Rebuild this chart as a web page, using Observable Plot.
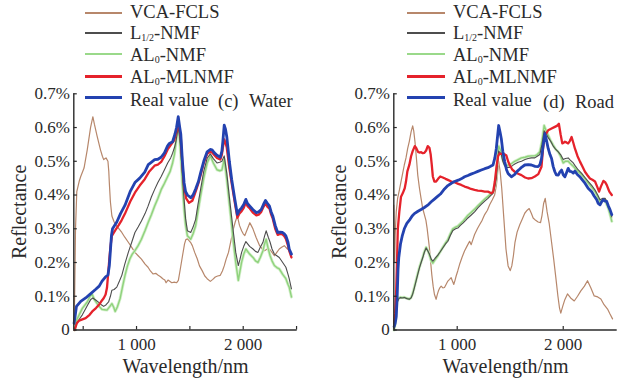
<!DOCTYPE html>
<html><head><meta charset="utf-8">
<script src="https://cdn.jsdelivr.net/npm/d3@7"></script>
<script src="https://cdn.jsdelivr.net/npm/@observablehq/plot@0.6"></script>
<style>
body{margin:0;background:#fff;}
#wrap{position:relative;width:630px;height:380px;overflow:hidden;font-family:"Liberation Serif","Times New Roman",serif;background:#fff;}
.panel{position:absolute;top:0;}
.lg{position:absolute;white-space:nowrap;font-size:18.5px;line-height:1;color:#2a2a2a;}
.lg sub{font-size:10px;vertical-align:-2px;}
.sw{position:absolute;}
</style></head><body>
<div id="wrap"></div>
<script>
// ---------- data (wavelength nm, reflectance %) ----------
const seriesNames = ["VCA-FCLS", "L<sub>1/2</sub>-NMF", "AL<sub>0</sub>-NMF", "AL<sub>0</sub>-MLNMF", "Real value"];
const seriesColors = ["#b7876b", "#4d4d4d", "#8fd27c", "#e5222b", "#2342b0"];
const seriesWidths = [1.2, 1.1, 1.4, 2.3, 2.8];
const yTicks = [0, 0.1, 0.2, 0.3, 0.4, 0.5, 0.6, 0.7];
const panelTitles = [["(c)", "Water"], ["(d)", "Road"]];

const waterVCA = [[414,0.0],[420,0.1],[428,0.3],[440,0.41],[462,0.44],[477,0.455],[508,0.48],[538,0.534],[569,0.6],[591,0.632],[605,0.61],[630,0.575],[662,0.534],[680,0.515],[692,0.505],[714,0.51],[732,0.5],[740,0.47],[745,0.436],[755,0.38],[769,0.338],[790,0.32],[815,0.308],[840,0.298],[862,0.289],[890,0.275],[923,0.26],[955,0.245],[985,0.23],[1015,0.22],[1046,0.21],[1080,0.195],[1108,0.186],[1130,0.175],[1154,0.166],[1180,0.168],[1200,0.163],[1225,0.158],[1246,0.152],[1265,0.148],[1277,0.14],[1295,0.148],[1308,0.145],[1330,0.14],[1354,0.142],[1375,0.14],[1392,0.147],[1410,0.18],[1431,0.22],[1450,0.255],[1462,0.268],[1478,0.27],[1492,0.265],[1510,0.258],[1523,0.25],[1545,0.23],[1569,0.211],[1590,0.19],[1615,0.176],[1640,0.16],[1662,0.152],[1692,0.144],[1715,0.15],[1738,0.157],[1760,0.16],[1785,0.162],[1805,0.175],[1822,0.19],[1840,0.21],[1862,0.23],[1885,0.265],[1908,0.3],[1925,0.32],[1945,0.338],[1965,0.31],[1985,0.294],[2000,0.285],[2015,0.28],[2040,0.3],[2062,0.318],[2075,0.31],[2092,0.299],[2120,0.275],[2154,0.25],[2180,0.24],[2200,0.235],[2225,0.24],[2246,0.24],[2270,0.23],[2292,0.22],[2315,0.23],[2338,0.24],[2360,0.245],[2385,0.25],[2400,0.245],[2415,0.24]];
const waterL12 = [[420,0.0],[440,0.02],[470,0.035],[492,0.045],[538,0.072],[570,0.09],[590,0.095],[620,0.088],[646,0.082],[670,0.075],[692,0.07],[715,0.075],[738,0.083],[755,0.1],[769,0.118],[790,0.12],[815,0.127],[840,0.145],[862,0.162],[890,0.195],[923,0.23],[955,0.26],[985,0.289],[1015,0.305],[1046,0.323],[1080,0.345],[1108,0.367],[1140,0.395],[1169,0.416],[1200,0.437],[1231,0.455],[1262,0.475],[1292,0.495],[1320,0.51],[1338,0.524],[1355,0.54],[1369,0.558],[1391,0.602],[1405,0.57],[1415,0.534],[1430,0.46],[1446,0.387],[1460,0.33],[1477,0.294],[1508,0.289],[1530,0.305],[1554,0.328],[1575,0.37],[1600,0.416],[1630,0.47],[1662,0.509],[1692,0.522],[1720,0.508],[1754,0.495],[1780,0.497],[1800,0.5],[1822,0.516],[1846,0.465],[1875,0.38],[1908,0.289],[1930,0.23],[1954,0.191],[1970,0.21],[1985,0.23],[2005,0.248],[2025,0.262],[2060,0.248],[2092,0.24],[2115,0.233],[2138,0.23],[2160,0.245],[2185,0.26],[2200,0.278],[2215,0.294],[2235,0.275],[2252,0.26],[2270,0.24],[2292,0.225],[2315,0.22],[2338,0.215],[2370,0.2],[2400,0.186],[2420,0.165],[2431,0.152],[2452,0.122]];
const waterAL0 = [[420,0.0],[440,0.03],[470,0.05],[492,0.064],[538,0.083],[565,0.1],[585,0.105],[605,0.09],[631,0.078],[655,0.068],[677,0.061],[700,0.06],[723,0.059],[745,0.068],[769,0.078],[785,0.068],[800,0.055],[820,0.068],[846,0.093],[870,0.13],[892,0.162],[915,0.19],[938,0.211],[960,0.225],[985,0.235],[1015,0.25],[1046,0.269],[1080,0.295],[1108,0.318],[1140,0.342],[1169,0.367],[1200,0.39],[1231,0.416],[1262,0.435],[1292,0.455],[1315,0.47],[1338,0.495],[1355,0.52],[1369,0.553],[1391,0.612],[1405,0.56],[1415,0.514],[1430,0.43],[1446,0.357],[1460,0.31],[1477,0.279],[1508,0.269],[1530,0.285],[1554,0.309],[1575,0.35],[1600,0.397],[1630,0.45],[1662,0.495],[1692,0.516],[1720,0.495],[1754,0.475],[1780,0.472],[1800,0.474],[1822,0.506],[1846,0.446],[1875,0.36],[1908,0.26],[1930,0.2],[1954,0.147],[1970,0.175],[1985,0.201],[2005,0.225],[2025,0.24],[2060,0.225],[2092,0.215],[2115,0.205],[2138,0.2],[2160,0.215],[2185,0.235],[2200,0.255],[2215,0.269],[2235,0.24],[2252,0.22],[2270,0.205],[2292,0.191],[2315,0.185],[2338,0.181],[2370,0.165],[2400,0.152],[2420,0.135],[2431,0.127],[2452,0.098]];
const waterMLNMF = [[420,0.0],[440,0.02],[462,0.028],[523,0.035],[560,0.045],[585,0.055],[620,0.065],[646,0.074],[670,0.085],[692,0.094],[710,0.105],[723,0.125],[735,0.17],[745,0.21],[757,0.25],[769,0.279],[800,0.295],[831,0.31],[860,0.325],[892,0.345],[940,0.38],[985,0.407],[1030,0.428],[1077,0.447],[1120,0.47],[1169,0.487],[1200,0.49],[1231,0.498],[1262,0.515],[1292,0.535],[1320,0.548],[1354,0.563],[1375,0.59],[1391,0.622],[1405,0.59],[1415,0.57],[1430,0.49],[1446,0.426],[1465,0.39],[1492,0.377],[1523,0.383],[1554,0.41],[1580,0.435],[1600,0.458],[1630,0.495],[1662,0.522],[1690,0.528],[1708,0.526],[1730,0.518],[1754,0.51],[1785,0.505],[1800,0.52],[1809,0.54],[1822,0.565],[1834,0.555],[1846,0.54],[1870,0.48],[1892,0.435],[1920,0.38],[1945,0.333],[1965,0.345],[1985,0.352],[2005,0.362],[2025,0.378],[2040,0.367],[2062,0.36],[2090,0.348],[2123,0.34],[2145,0.342],[2169,0.35],[2190,0.365],[2209,0.375],[2228,0.365],[2246,0.36],[2262,0.342],[2277,0.33],[2300,0.3],[2323,0.282],[2345,0.285],[2369,0.283],[2385,0.278],[2400,0.27],[2420,0.25],[2431,0.235],[2452,0.215]];
const waterReal = [[415,0.02],[437,0.07],[477,0.085],[523,0.095],[560,0.105],[615,0.12],[650,0.13],[677,0.145],[708,0.157],[732,0.163],[745,0.19],[754,0.23],[765,0.28],[775,0.3],[815,0.32],[850,0.345],[892,0.37],[940,0.41],[985,0.437],[1030,0.45],[1077,0.468],[1110,0.49],[1138,0.497],[1170,0.505],[1200,0.506],[1230,0.512],[1262,0.525],[1290,0.545],[1308,0.553],[1338,0.558],[1360,0.58],[1375,0.6],[1391,0.632],[1405,0.6],[1415,0.58],[1430,0.5],[1446,0.436],[1460,0.41],[1477,0.4],[1508,0.392],[1530,0.4],[1554,0.418],[1580,0.44],[1600,0.465],[1630,0.5],[1662,0.528],[1690,0.535],[1708,0.534],[1730,0.525],[1754,0.518],[1785,0.512],[1800,0.53],[1809,0.558],[1822,0.607],[1834,0.595],[1846,0.573],[1870,0.5],[1892,0.446],[1920,0.39],[1945,0.343],[1965,0.355],[1985,0.362],[2005,0.372],[2025,0.387],[2040,0.375],[2062,0.367],[2090,0.357],[2123,0.348],[2145,0.35],[2169,0.357],[2190,0.372],[2209,0.384],[2228,0.375],[2246,0.367],[2262,0.35],[2277,0.338],[2300,0.31],[2323,0.289],[2345,0.29],[2369,0.289],[2385,0.285],[2400,0.279],[2420,0.26],[2431,0.24],[2452,0.225]];

const roadVCA = [[402,0.37],[406,0.3],[410,0.2],[415,0.28],[425,0.35],[438,0.39],[455,0.415],[470,0.44],[486,0.465],[501,0.489],[517,0.51],[533,0.538],[549,0.56],[565,0.587],[580,0.605],[590,0.59],[602,0.557],[615,0.51],[628,0.459],[644,0.42],[659,0.39],[675,0.36],[691,0.341],[705,0.325],[716,0.302],[728,0.27],[738,0.243],[750,0.2],[760,0.165],[773,0.13],[785,0.106],[801,0.091],[812,0.105],[823,0.116],[836,0.125],[849,0.13],[865,0.125],[880,0.126],[895,0.135],[912,0.145],[928,0.15],[943,0.155],[955,0.145],[968,0.135],[980,0.148],[990,0.16],[1005,0.175],[1022,0.194],[1045,0.215],[1069,0.234],[1095,0.25],[1117,0.263],[1132,0.253],[1150,0.27],[1164,0.283],[1190,0.3],[1211,0.312],[1235,0.325],[1259,0.342],[1285,0.355],[1306,0.371],[1330,0.385],[1353,0.4],[1370,0.43],[1380,0.46],[1391,0.5],[1405,0.47],[1420,0.42],[1440,0.33],[1460,0.24],[1480,0.19],[1500,0.176],[1515,0.19],[1530,0.22],[1545,0.26],[1565,0.29],[1590,0.312],[1615,0.33],[1637,0.346],[1660,0.355],[1679,0.36],[1700,0.345],[1716,0.332],[1740,0.325],[1763,0.32],[1786,0.318],[1800,0.34],[1815,0.375],[1830,0.39],[1848,0.35],[1868,0.315],[1890,0.26],[1910,0.21],[1930,0.156],[1950,0.1],[1965,0.065],[1977,0.05],[1995,0.07],[2015,0.09],[2040,0.107],[2070,0.095],[2104,0.086],[2135,0.1],[2166,0.116],[2200,0.13],[2229,0.146],[2260,0.125],[2292,0.101],[2325,0.098],[2355,0.092],[2385,0.075],[2418,0.062],[2440,0.048],[2465,0.033]];
const roadL12 = [[405,0.0],[420,0.03],[432,0.08],[450,0.093],[464,0.096],[480,0.095],[501,0.096],[525,0.093],[549,0.091],[565,0.095],[580,0.106],[596,0.125],[612,0.145],[628,0.165],[644,0.184],[660,0.2],[675,0.214],[690,0.23],[707,0.243],[722,0.235],[738,0.225],[755,0.21],[770,0.204],[790,0.212],[817,0.222],[840,0.232],[864,0.243],[890,0.255],[912,0.263],[935,0.28],[959,0.295],[985,0.3],[1006,0.302],[1030,0.31],[1054,0.317],[1080,0.325],[1101,0.332],[1130,0.34],[1164,0.35],[1195,0.362],[1227,0.372],[1260,0.382],[1290,0.39],[1315,0.398],[1338,0.405],[1355,0.425],[1369,0.449],[1380,0.49],[1391,0.53],[1405,0.525],[1416,0.52],[1430,0.5],[1448,0.486],[1470,0.482],[1495,0.482],[1520,0.487],[1543,0.492],[1575,0.497],[1606,0.5],[1640,0.505],[1669,0.508],[1700,0.51],[1732,0.51],[1755,0.515],[1779,0.52],[1800,0.55],[1820,0.59],[1840,0.582],[1858,0.57],[1880,0.56],[1905,0.545],[1930,0.535],[1953,0.528],[1975,0.52],[2000,0.505],[2020,0.508],[2047,0.51],[2062,0.505],[2079,0.5],[2095,0.495],[2110,0.488],[2140,0.475],[2174,0.464],[2205,0.452],[2237,0.44],[2270,0.428],[2300,0.415],[2325,0.4],[2347,0.386],[2370,0.39],[2395,0.39],[2410,0.382],[2426,0.37],[2442,0.355],[2458,0.335]];
const roadAL0 = [[405,0.0],[420,0.03],[432,0.085],[450,0.095],[464,0.097],[480,0.096],[501,0.097],[525,0.094],[549,0.092],[565,0.096],[580,0.108],[596,0.127],[612,0.147],[628,0.167],[644,0.186],[660,0.202],[675,0.216],[690,0.232],[707,0.245],[722,0.236],[738,0.222],[755,0.205],[770,0.198],[790,0.208],[817,0.22],[840,0.232],[864,0.245],[890,0.258],[912,0.268],[935,0.285],[959,0.3],[985,0.305],[1006,0.308],[1030,0.315],[1054,0.322],[1080,0.332],[1101,0.34],[1130,0.348],[1164,0.358],[1195,0.368],[1227,0.378],[1260,0.388],[1290,0.396],[1315,0.403],[1338,0.41],[1355,0.43],[1369,0.46],[1380,0.505],[1391,0.545],[1405,0.535],[1416,0.525],[1430,0.505],[1448,0.49],[1470,0.488],[1495,0.49],[1520,0.495],[1543,0.5],[1575,0.505],[1606,0.51],[1640,0.512],[1669,0.515],[1700,0.516],[1732,0.516],[1755,0.52],[1779,0.528],[1800,0.56],[1820,0.606],[1840,0.59],[1858,0.577],[1880,0.562],[1905,0.548],[1930,0.535],[1953,0.528],[1975,0.515],[2000,0.495],[2020,0.5],[2047,0.5],[2062,0.495],[2079,0.49],[2095,0.485],[2110,0.48],[2140,0.47],[2174,0.46],[2205,0.448],[2237,0.435],[2270,0.422],[2300,0.41],[2325,0.395],[2347,0.38],[2370,0.385],[2395,0.385],[2410,0.372],[2426,0.36],[2442,0.342],[2458,0.322]];
const roadMLNMF = [[405,0.02],[415,0.05],[425,0.12],[432,0.2],[440,0.3],[454,0.35],[470,0.395],[486,0.405],[505,0.42],[517,0.44],[530,0.47],[549,0.49],[565,0.515],[580,0.53],[600,0.545],[612,0.54],[630,0.528],[644,0.526],[660,0.527],[675,0.524],[690,0.525],[707,0.532],[722,0.545],[738,0.54],[750,0.52],[760,0.49],[770,0.455],[785,0.44],[801,0.44],[820,0.448],[840,0.455],[864,0.452],[890,0.448],[912,0.445],[945,0.44],[975,0.438],[1010,0.433],[1038,0.43],[1070,0.425],[1101,0.422],[1130,0.418],[1164,0.415],[1195,0.413],[1227,0.412],[1260,0.41],[1290,0.41],[1322,0.405],[1340,0.41],[1355,0.44],[1369,0.479],[1385,0.515],[1400,0.523],[1415,0.522],[1432,0.523],[1450,0.52],[1464,0.517],[1480,0.5],[1495,0.489],[1520,0.475],[1543,0.469],[1575,0.463],[1606,0.459],[1640,0.452],[1669,0.449],[1700,0.45],[1732,0.455],[1765,0.462],[1795,0.484],[1810,0.54],[1827,0.577],[1845,0.585],[1858,0.592],[1890,0.597],[1921,0.602],[1940,0.605],[1959,0.611],[1975,0.58],[1991,0.553],[2005,0.555],[2016,0.558],[2030,0.556],[2047,0.553],[2062,0.56],[2079,0.572],[2095,0.555],[2110,0.538],[2135,0.515],[2158,0.499],[2180,0.485],[2205,0.469],[2230,0.458],[2252,0.449],[2275,0.445],[2300,0.44],[2320,0.425],[2338,0.41],[2355,0.425],[2379,0.442],[2395,0.438],[2410,0.43],[2425,0.418],[2435,0.41],[2458,0.4]];
const roadReal = [[405,0.01],[415,0.02],[425,0.04],[434,0.1],[442,0.18],[449,0.215],[465,0.255],[481,0.278],[501,0.3],[525,0.316],[555,0.328],[575,0.338],[596,0.345],[630,0.352],[659,0.357],[690,0.363],[722,0.37],[755,0.38],[785,0.388],[815,0.396],[842,0.403],[880,0.418],[912,0.428],[945,0.435],[975,0.44],[1010,0.444],[1038,0.448],[1070,0.454],[1101,0.458],[1130,0.462],[1164,0.466],[1195,0.47],[1227,0.474],[1260,0.478],[1290,0.481],[1315,0.485],[1338,0.489],[1355,0.51],[1369,0.538],[1391,0.606],[1405,0.585],[1416,0.567],[1430,0.53],[1448,0.499],[1465,0.475],[1480,0.464],[1511,0.454],[1543,0.461],[1565,0.47],[1590,0.477],[1610,0.483],[1637,0.489],[1670,0.49],[1700,0.489],[1735,0.485],[1763,0.484],[1780,0.49],[1795,0.508],[1810,0.545],[1827,0.582],[1840,0.565],[1858,0.538],[1875,0.52],[1890,0.508],[1905,0.485],[1921,0.469],[1935,0.46],[1953,0.459],[1968,0.468],[1984,0.474],[2000,0.46],[2016,0.454],[2030,0.465],[2047,0.479],[2062,0.47],[2079,0.469],[2095,0.465],[2110,0.471],[2135,0.46],[2158,0.454],[2180,0.445],[2205,0.435],[2235,0.42],[2268,0.41],[2290,0.398],[2316,0.386],[2330,0.375],[2347,0.371],[2362,0.38],[2379,0.386],[2395,0.382],[2410,0.381],[2425,0.368],[2442,0.356],[2458,0.342]];

const waterSeries = [waterVCA, waterL12, waterAL0, waterMLNMF, waterReal];
const roadSeries = [roadVCA, roadL12, roadAL0, roadMLNMF, roadReal];

// ---------- layout ----------
const panels = [
  {series: waterSeries, xDomain: [412, 2506], xTicks: [500, 1000, 1500, 2000, 2500], left: 0,
   mL: 73.3, mR: 18.3, legend: {lx1: 85, lx2: 122, tx: 130, t1: 218, t2: 249, tY: 101}},
  {series: roadSeries, xDomain: [402, 2509], xTicks: [1000, 2000], left: 315,
   mL: 78.3, mR: 13.3, legend: {lx1: 92, lx2: 130, tx: 138, t1: 228, t2: 260, tY: 102.5}}
];
const W = 315, H = 380, mT = 93.3, mB = 50.5;
const axisColor = "#2b2b2b";
const wrap = document.getElementById("wrap");

panels.forEach((p, pi) => {
  const pw = W - p.mL - p.mR, ph = H - mT - mB;
  const lineMarks = [];
  // draw order: VCA, AL0-NMF, L1/2, MLNMF, Real
  [0, 2, 1, 3, 4].forEach(i => {
    if (i === 2) lineMarks.push(Plot.line(p.series[i], {x: d => d[0], y: d => d[1], stroke: "#d3efca", strokeWidth: 3}));
    lineMarks.push(Plot.line(p.series[i], {x: d => d[0], y: d => d[1], stroke: seriesColors[i], strokeWidth: seriesWidths[i], strokeLinejoin: "round"}));
  });
  const chart = Plot.plot({
    width: W, height: H,
    marginLeft: p.mL, marginRight: p.mR, marginTop: mT, marginBottom: mB,
    style: {fontFamily: '"Liberation Serif", "Times New Roman", serif', background: "transparent", color: "#2a2a2a"},
    x: {domain: p.xDomain},
    y: {domain: [0, 0.7]},
    marks: [
      ...lineMarks,
      Plot.ruleX([p.xDomain[0]], {stroke: axisColor, strokeWidth: 1.4}),
      Plot.ruleY([0], {stroke: axisColor, strokeWidth: 1.4}),
      Plot.tickY(yTicks, {y: d => d, insetRight: pw - 3.5, stroke: axisColor, strokeWidth: 1.2}),
      Plot.tickX(p.xTicks, {x: d => d, insetTop: ph - 3.5, stroke: axisColor, strokeWidth: 1.2}),
      Plot.axisY({ticks: yTicks, tickSize: 0, tickPadding: 4, fontSize: 17, label: null,
        tickFormat: d => d === 0 ? "0" : d.toFixed(1) + "%"}),
      Plot.axisX({ticks: [1000, 2000], tickSize: 0, tickPadding: 8, fontSize: 17, label: null,
        tickFormat: d => d3.format(",")(d).replace(",", " ")}),
      Plot.text(["Wavelength/nm"], {frameAnchor: "bottom", lineAnchor: "middle", textAnchor: "middle", dy: 37, fontSize: 20}),
      Plot.text(["Reflectance"], {frameAnchor: "left", lineAnchor: "middle", textAnchor: "middle", rotate: -90, dx: -54, fontSize: 20})
    ]
  });
  const div = document.createElement("div");
  div.className = "panel";
  div.style.left = p.left + "px";
  div.appendChild(chart);
  wrap.appendChild(div);

  // legend (HTML overlay)
  const L = p.legend;
  const textCenters = [12.5, 33.5, 55, 77.5, 100.5];
  const lineCenters = [13.3, 33, 54, 76.5, 97.7];
  seriesNames.forEach((name, i) => {
    const sw = document.createElement("div");
    sw.className = "sw";
    const lw = i === 4 ? 2.6 : (i === 3 ? 2.2 : 1.8);
    sw.style.cssText = `left:${p.left + L.lx1}px;top:${lineCenters[i] - lw / 2}px;width:${L.lx2 - L.lx1}px;height:${lw}px;background:${i === 2 ? "#9ad98a" : seriesColors[i]};`;
    wrap.appendChild(sw);
    const t = document.createElement("div");
    t.className = "lg";
    t.style.left = (p.left + L.tx) + "px";
    t.style.top = (textCenters[i] - 9.4) + "px";
    t.innerHTML = name;
    wrap.appendChild(t);
  });
  panelTitles[pi].forEach((s, k) => {
    const t = document.createElement("div");
    t.className = "lg";
    t.style.left = (p.left + (k === 0 ? L.t1 : L.t2)) + "px";
    t.style.top = (L.tY - 9.4) + "px";
    t.textContent = s;
    wrap.appendChild(t);
  });
});
</script>
</body></html>
